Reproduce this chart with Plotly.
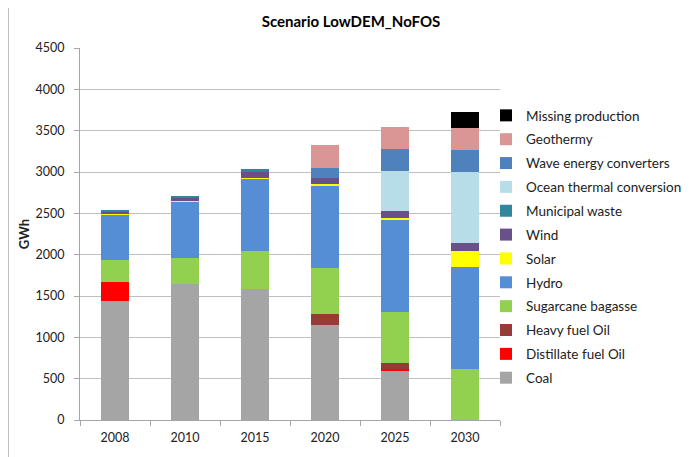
import plotly.graph_objects as go

years = ["2008", "2010", "2015", "2020", "2025", "2030"]

coal = [1445, 1650, 1585, 1150, 593, 0]
distillate_fuel_oil = [230, 0, 0, 0, 20, 0]
heavy_fuel_oil = [0, 0, 0, 137, 73, 0]
sugarcane_bagasse = [263, 315, 455, 550, 625, 620]
hydro = [545, 678, 878, 1000, 1110, 1225]
solar = [10, 10, 15, 12, 20, 195]
wind = [30, 40, 73, 77, 90, 100]
municipal_waste = [15, 5, 25, 0, 0, 0]
ocean_thermal = [0, 0, 0, 0, 485, 865]
wave_energy = [0, 0, 0, 125, 262, 265]
geothermy = [0, 0, 0, 270, 270, 262]
missing_production = [0, 0, 0, 0, 0, 195]

series = [
    ("Coal", coal, "#A5A5A5"),
    ("Distillate fuel Oil", distillate_fuel_oil, "#FF0000"),
    ("Heavy fuel Oil", heavy_fuel_oil, "#983A36"),
    ("Sugarcane bagasse", sugarcane_bagasse, "#92D050"),
    ("Hydro", hydro, "#558ED5"),
    ("Solar", solar, "#FFFF00"),
    ("Wind", wind, "#6A5088"),
    ("Municipal waste", municipal_waste, "#31859C"),
    ("Ocean thermal conversion", ocean_thermal, "#B7DEE8"),
    ("Wave energy converters", wave_energy, "#4F81BD"),
    ("Geothermy", geothermy, "#D99694"),
    ("Missing production", missing_production, "#000000"),
]

fig = go.Figure()
n = len(series)
for i, (name, vals, col) in enumerate(series):
    fig.add_trace(go.Bar(
        x=years, y=vals, name=name, legendgroup=name,
        legendrank=n - i,
        marker=dict(color=col, line=dict(width=0)),
    ))

font_family = "Lato, 'Open Sans', sans-serif"

W, H = 686, 449
L, T = 72, 40
PW, PH = 420, 372

fig.update_layout(
    width=W, height=H,
    barmode="stack",
    bargap=0.6,
    paper_bgcolor="white",
    plot_bgcolor="white",
    margin=dict(l=L, r=W - L - PW, t=T, b=H - T - PH, autoexpand=False),
    font=dict(family=font_family, size=12, color="#222222"),
    title=dict(
        text="<b>Scenario LowDEM_NoFOS</b>",
        x=0.5, xref="container", xanchor="center",
        y=1 - 14 / H, yref="container", yanchor="middle",
        font=dict(size=15, color="#000000", family=font_family),
    ),
    legend=dict(
        x=(478 - L) / PW, xanchor="left",
        y=0.86, yanchor="top",
        traceorder="grouped",
        tracegroupgap=3.3,
        font=dict(size=13.5, color="#222222", family=font_family),
        itemwidth=30,
        bgcolor="rgba(0,0,0,0)",
    ),
    xaxis=dict(
        type="category",
        showline=True, linecolor="#A6A6A6", linewidth=1,
        ticks="outside", tickson="boundaries", ticklen=5, tickcolor="#A6A6A6",
        showgrid=False,
        tickfont=dict(size=12.5),
        ticklabelstandoff=6,
    ),
    yaxis=dict(
        range=[0, 4500], dtick=500,
        showline=True, linecolor="#A6A6A6", linewidth=1,
        ticks="outside", ticklen=5, tickcolor="#A6A6A6",
        showgrid=True, gridcolor="#BFBFBF", gridwidth=1,
        zeroline=False,
        tickfont=dict(size=12.5),
        ticklabelstandoff=7,
        title=dict(text="<b>GWh</b>", font=dict(size=13), standoff=2),
    ),
    shapes=[dict(
        type="line", xref="paper", yref="paper",
        x0=-(L - 0.5) / PW, x1=-(L - 0.5) / PW,
        y0=-(H - T - PH) / PH, y1=(PH + T + 10) / PH,
        line=dict(color="#BFBFBF", width=1),
        layer="below",
    )],
)

fig.write_html("out.html")
